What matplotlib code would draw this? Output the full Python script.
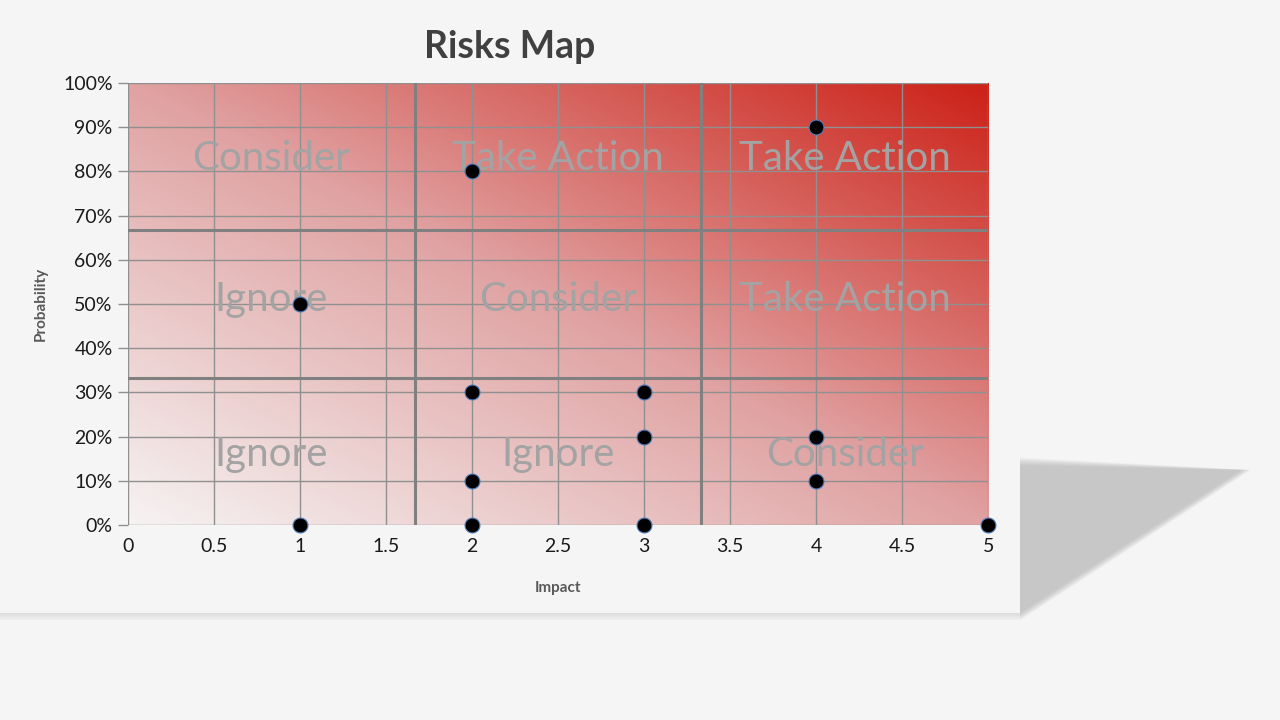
import numpy as np
import matplotlib.pyplot as plt
from matplotlib.patches import Polygon
from matplotlib.ticker import PercentFormatter

plt.rcParams['font.family'] = ['Lato', 'DejaVu Sans']

# risk points: impact vs probability
impact = [1, 2, 3, 5, 2, 4, 3, 4, 2, 3, 1, 2, 4]
probability = [0.0, 0.0, 0.0, 0.0, 0.1, 0.1, 0.2, 0.2, 0.3, 0.3, 0.5, 0.8, 0.9]

# zone labels (rows bottom -> top, columns left -> right)
zone_labels = [
    ["Ignore", "Ignore", "Consider"],
    ["Ignore", "Consider", "Take Action"],
    ["Consider", "Take Action", "Take Action"],
]
label_x = [0.83, 2.5, 4.17]
label_y = [0.16, 0.51, 0.83]

xticks = [0, 0.5, 1, 1.5, 2, 2.5, 3, 3.5, 4, 4.5, 5]
xticklabels = ["0", "0.5", "1", "1.5", "2", "2.5", "3", "3.5", "4", "4.5", "5"]
yticks = np.arange(0, 1.01, 0.1)

bg = "#f5f5f5"
fig = plt.figure(figsize=(12.8, 7.2), dpi=100, facecolor=bg)

# perspective shadow behind chart panel
shadow_ax = fig.add_axes([0, 0, 1, 1], zorder=0)
shadow_ax.set_xlim(0, 1280)
shadow_ax.set_ylim(720, 0)
shadow_ax.axis("off")
for i in range(12):
    s = 12 - i
    pts = [(1020, 466 - s * 0.7), (1240 + s * 0.9, 470), (1020, 612 + s * 0.7)]
    shadow_ax.add_patch(Polygon(pts, closed=True, color="#aaaaaa", alpha=0.065, lw=0))
for i in range(5):
    shadow_ax.add_patch(Polygon([(0, 612), (1020, 612), (1020, 614 + i * 1.5), (0, 614 + i * 1.5)],
                                closed=True, color="#c8c8c8", alpha=0.12, lw=0))
shadow_ax.add_patch(Polygon([(0, 0), (1020, 0), (1020, 613), (0, 613)],
                            closed=True, color=bg, lw=0))

ax = fig.add_axes([0.1, 0.2708, 0.672, 0.6139], zorder=1)
ax.set_xlim(0, 5)
ax.set_ylim(0, 1)

# diagonal gradient: light bottom-left -> red top-right
u, v = np.meshgrid(np.linspace(0, 1, 500), np.linspace(0, 1, 300))
t = (u + v) / 2
stops = [0, 0.5, 1]
r = np.interp(t, stops, [246, 224, 204])
g = np.interp(t, stops, [243, 162, 32])
b = np.interp(t, stops, [243, 162, 22])
img = np.dstack([r, g, b]) / 255
ax.imshow(img, extent=[0, 5, 0, 1], aspect="auto", origin="lower", zorder=0)

ax.set_xticks(xticks)
ax.set_xticklabels(xticklabels)
ax.set_yticks(yticks)
ax.yaxis.set_major_formatter(PercentFormatter(1.0, decimals=0))
ax.grid(True, color="#909090", linewidth=1.0, zorder=1)
ax.tick_params(length=0, labelsize=14, colors="#1a1a1a", pad=9)
ax.tick_params(axis="y", length=7, color="#909090", width=1, pad=4)
for sp in ax.spines.values():
    sp.set_visible(False)

for val in [5 / 3, 10 / 3]:
    ax.axvline(val, color="#808080", linewidth=2.2, zorder=2)
for val in [1 / 3, 2 / 3]:
    ax.axhline(val, color="#808080", linewidth=2.2, zorder=2)

for ri, row in enumerate(zone_labels):
    for ci, txt in enumerate(row):
        ax.text(label_x[ci], label_y[ri], txt, fontsize=29, color="#a3a3a3",
                ha="center", va="center", zorder=3)

ax.scatter(impact, probability, s=115, color="black", edgecolors="#4a7ebb",
           linewidths=0.8, zorder=4, clip_on=False)

ax.set_xlabel("Impact", fontsize=11, fontweight="bold", color="#595959", labelpad=19)
ax.set_ylabel("Probability", fontsize=11, fontweight="bold", color="#595959", labelpad=11)
ax.set_title("Risks Map", fontsize=27, fontweight="bold", color="#404040", pad=18, x=0.444)

fig.savefig("out.png", dpi=100, facecolor=bg)
